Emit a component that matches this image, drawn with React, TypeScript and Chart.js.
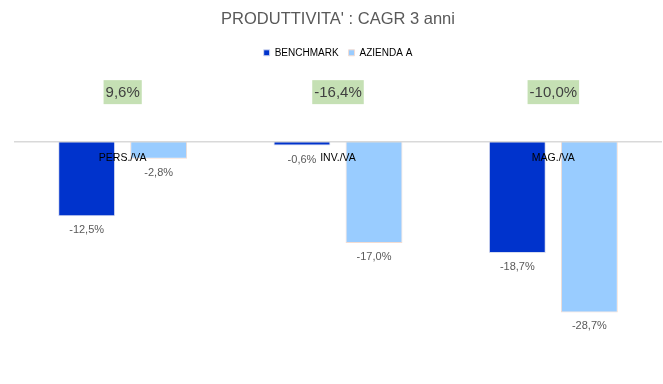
import React, { useEffect, useRef } from "react";
import { Chart, registerables } from "chart.js";

Chart.register(...registerables);

const TITLE = "PRODUTTIVITA' : CAGR 3 anni";
const CATEGORIES = ["PERS./VA", "INV./VA", "MAG./VA"];
const BENCHMARK = [-12.5, -0.6, -18.7];
const AZIENDA_A = [-2.8, -17.0, -28.7];
const DIFF = [9.6, -16.4, -10.0];
const SERIES_NAMES = ["BENCHMARK", "AZIENDA A"];

const FONT = "'Liberation Sans', Arial, sans-serif";

const fmt = (v: number) => v.toFixed(1).replace(".", ",") + "%";

const labelPlugin = {
  id: "valueLabels",
  afterDraw(chart: any) {
    const ctx = chart.ctx;
    const yScale = chart.scales.y;
    const xScale = chart.scales.x;
    ctx.save();
    ctx.font = `11px ${FONT}`;
    ctx.fillStyle = "#595959";
    ctx.textAlign = "center";
    ctx.textBaseline = "middle";
    chart.data.datasets.forEach((ds: any, di: number) => {
      const meta = chart.getDatasetMeta(di);
      meta.data.forEach((bar: any, i: number) => {
        const v = ds.data[i];
        const y = v < 0 ? bar.y + 14 : bar.y - 14;
        ctx.fillText(fmt(v), bar.x, y);
      });
    });
    // difference labels with green background
    ctx.font = `15px ${FONT}`;
    DIFF.forEach((d, i) => {
      const x = xScale.getPixelForValue(i);
      const y = yScale.getPixelForValue(8.4);
      const txt = fmt(d);
      const w = ctx.measureText(txt).width + 4;
      const h = 24;
      ctx.fillStyle = "#C5E0B4";
      ctx.fillRect(x - w / 2, y - h / 2, w, h);
      ctx.fillStyle = "#404040";
      ctx.fillText(txt, x, y + 1);
    });
    ctx.restore();
  },
};

export default function App() {
  const ref = useRef<HTMLCanvasElement>(null);
  useEffect(() => {
    if (!ref.current) return;
    const chart = new Chart(ref.current, {
      type: "bar",
      data: {
        labels: CATEGORIES,
        datasets: [
          {
            label: SERIES_NAMES[0],
            data: BENCHMARK,
            backgroundColor: "#0033CC",
            borderColor: "#D6DCEF",
            borderWidth: 1,
            categoryPercentage: 0.669,
            barPercentage: 0.79,
          },
          {
            label: SERIES_NAMES[1],
            data: AZIENDA_A,
            backgroundColor: "#99CCFF",
            borderColor: "#F2DCD2",
            borderWidth: 1,
            categoryPercentage: 0.669,
            barPercentage: 0.79,
          },
        ],
      },
      options: {
        responsive: false,
        animation: false,
        layout: { padding: { left: 15, right: 2, top: 0, bottom: 52 } },
        plugins: {
          title: {
            display: true,
            text: TITLE,
            color: "#595959",
            font: { family: FONT, size: 16.5, weight: "normal" },
            padding: { top: 10, bottom: 8 },
          },
          legend: {
            display: true,
            position: "top",
            labels: {
              boxWidth: 6,
              boxHeight: 6,
              color: "#000000",
              font: { family: FONT, size: 10 },
              padding: 10,
            },
          },
          tooltip: { enabled: false },
        },
        scales: {
          y: {
            display: false,
            min: -32,
            max: 12.5,
          },
          x: {
            position: { y: 0 } as any,
            grid: { display: false, drawTicks: false },
            border: { display: true, color: "#D9D9D9", width: 1.5, z: 1 },
            ticks: {
              z: 1,
              color: "#000000",
              font: { family: FONT, size: 10.5 },
              padding: 10,
            },
          },
        },
      },
      plugins: [labelPlugin],
    });
    return () => chart.destroy();
  }, []);
  return (
    <div style={{ position: "absolute", left: 0, top: 0, width: 663, height: 384, background: "#fff" }}>
      <canvas ref={ref} width={663} height={384} />
    </div>
  );
}
